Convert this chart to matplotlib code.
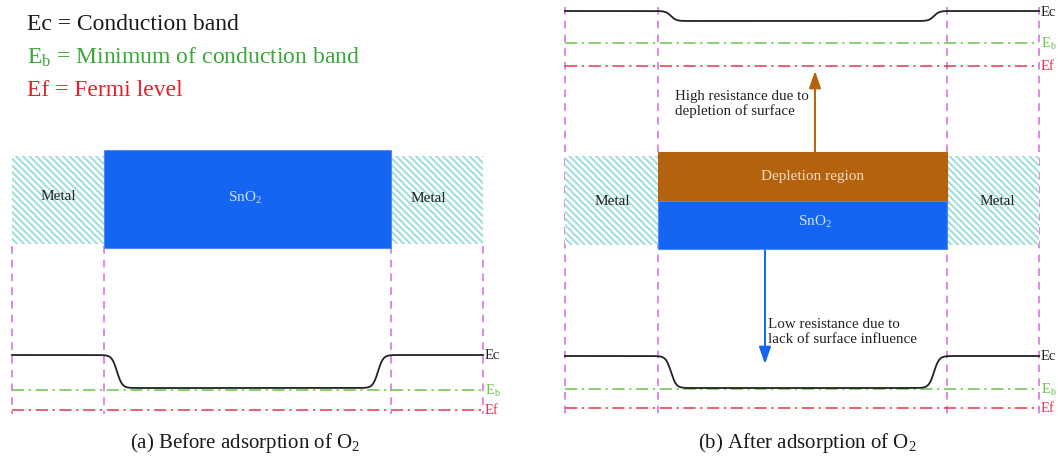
import numpy as np
import matplotlib
matplotlib.use("Agg")
import matplotlib.pyplot as plt
from matplotlib.patches import Rectangle

plt.rcParams['font.family'] = ['Liberation Serif', 'DejaVu Serif']
plt.rcParams['mathtext.fontset'] = 'custom'
plt.rcParams['mathtext.rm'] = 'Liberation Serif'
plt.rcParams['mathtext.it'] = 'Liberation Serif:italic'
plt.rcParams['hatch.linewidth'] = 1.3

# ---- content ----
legend_texts = ["Ec = Conduction band", r"E$_{\rm b}$ = Minimum of conduction band", "Ef = Fermi level"]
legend_colors = ["#1a1a1a", "#3aa73a", "#e3202c"]
level_labels = ["Ec", r"E$_{\rm b}$", "Ef"]
level_colors = ["#222222", "#6cc24a", "#e8334a"]
captions = [r"(a) Before adsorption of O$_{\rm 2}$", r"(b) After adsorption of O$_{\rm 2}$"]
metal_label = "Metal"
sno2_label = r"SnO$_{\rm 2}$"
depletion_label = "Depletion region"
high_text = "High resistance due to\ndepletion of surface"
low_text = "Low resistance due to\nlack of surface influence"

# ---- layout (pixel coordinates) ----
W, H = 1058, 460
fig = plt.figure(figsize=(W / 100, H / 100), dpi=100)
ax = fig.add_axes([0, 0, 1, 1])
ax.set_xlim(0, W)
ax.set_ylim(H, 0)
ax.axis('off')

magenta = "#d46be0"
teal = "#95ddd5"
blue = "#1466f2"
brown = "#b5620e"
dash_v = (0, (5, 4))
dashdot = (0, (8, 3, 1.5, 3))

def band(x0, x1, x2, x3, y_hi, y_lo, w):
    """Ec profile: flat, smooth drop, flat, smooth rise, flat."""
    xs = np.linspace(x0, x3, 800)
    s1 = 0.5 * (1 + np.tanh((xs - (x1 + w / 2)) / (w / 5)))
    s2 = 0.5 * (1 + np.tanh((xs - (x2 - w / 2)) / (w / 5)))
    ys = y_hi + (y_lo - y_hi) * (s1 - s2)
    return xs, ys

def draw_levels(xL, xR, yc, yb, yf, xa, xb, y_lo, w):
    xs, ys = band(xL, xa, xb, xR, yc, y_lo, w)
    ax.plot([xL, xR], [yb, yb], color=level_colors[1], lw=1.1, ls=dashdot, zorder=2)
    ax.plot([xL, xR], [yf, yf], color=level_colors[2], lw=1.1, ls=dashdot, zorder=2)
    ax.plot(xs, ys, color=level_colors[0], lw=1.3, zorder=3)
    for lab, y, c in zip(level_labels, [yc, yb, yf], level_colors):
        ax.text(xR + 2, y, lab, color=c, fontsize=10.5, va='center', ha='left')

def metal(x0, x1, y0, y1, tx, ty):
    ax.add_patch(Rectangle((x0, y0), x1 - x0, y1 - y0, facecolor='white',
                           edgecolor=teal, lw=0, hatch='\\' * 5, zorder=4))
    ax.text(tx, ty, metal_label, fontsize=11, ha='center', va='center', color='#222222', zorder=5)

# legend text
for i, (t, c) in enumerate(zip(legend_texts, legend_colors)):
    ax.text(27, 24 + 33 * i, t, color=c, fontsize=17, va='center', ha='left')

# ---------- panel (a) ----------
xa = [12, 104, 391, 483]
for x in xa:
    ax.plot([x, x], [247, 415], color=magenta, lw=1.1, ls=dash_v, zorder=1)
metal(12, 104, 157, 245, 58, 197)
metal(391, 483, 157, 245, 428, 199)
ax.add_patch(Rectangle((104, 151), 287, 98, facecolor=blue, edgecolor='#4d8af5', lw=0.8, zorder=4))
ax.text(245, 198, sno2_label, fontsize=11, color='#cfe0ff', ha='center', va='center', zorder=5)
draw_levels(12, 483, 356, 391, 411, 104, 391, 389, 26)
ax.text(245, 443, captions[0], fontsize=15, ha='center', va='center', color='#1a1a1a')

# ---------- panel (b) ----------
xb = [565, 658, 947, 1039]
for x in xb:
    ax.plot([x, x], [8, 415], color=magenta, lw=1.1, ls=dash_v, zorder=1)
# top band diagram
xs, ys = band(565, 658, 947, 1039, 12, 22, 26)
ax.plot([565, 1039], [44, 44], color=level_colors[1], lw=1.1, ls=dashdot, zorder=2)
ax.plot([565, 1039], [67, 67], color=level_colors[2], lw=1.1, ls=dashdot, zorder=2)
ax.plot(xs, ys, color=level_colors[0], lw=1.3, zorder=3)
for lab, y, c in zip(level_labels, [12, 44, 67], level_colors):
    ax.text(1041, y, lab, color=c, fontsize=10.5, va='center', ha='left')

metal(565, 658, 157, 246, 612, 202)
metal(947, 1039, 157, 246, 997, 202)
ax.add_patch(Rectangle((658, 153), 289, 49, facecolor=brown, edgecolor=brown, lw=0.8, zorder=4))
ax.add_patch(Rectangle((658, 202), 289, 48, facecolor=blue, edgecolor='#4d8af5', lw=0.8, zorder=4))
ax.text(813, 177, depletion_label, fontsize=11, color='#f7dcc0', ha='center', va='center', zorder=5)
ax.text(815, 222, sno2_label, fontsize=11, color='#cfe0ff', ha='center', va='center', zorder=5)

# arrows
ax.annotate('', xy=(815, 72), xytext=(815, 153),
            arrowprops=dict(arrowstyle='-|>,head_length=0.8,head_width=0.28', color=brown, lw=1.4,
                            mutation_scale=13, shrinkA=0, shrinkB=0), zorder=3)
ax.annotate('', xy=(765, 365), xytext=(765, 250),
            arrowprops=dict(arrowstyle='-|>,head_length=0.8,head_width=0.28', color=blue, lw=1.4,
                            mutation_scale=13, shrinkA=0, shrinkB=0), zorder=3)
ax.text(675, 104, high_text, fontsize=10.8, ha='left', va='center', color='#222222', linespacing=1.2)
ax.text(768, 332, low_text, fontsize=10.8, ha='left', va='center', color='#222222', linespacing=1.2)

draw_levels(565, 1039, 357, 390, 409, 658, 947, 389, 26)
ax.text(807, 443, captions[1], fontsize=15, ha='center', va='center', color='#1a1a1a')

fig.savefig("out.png", dpi=100)
